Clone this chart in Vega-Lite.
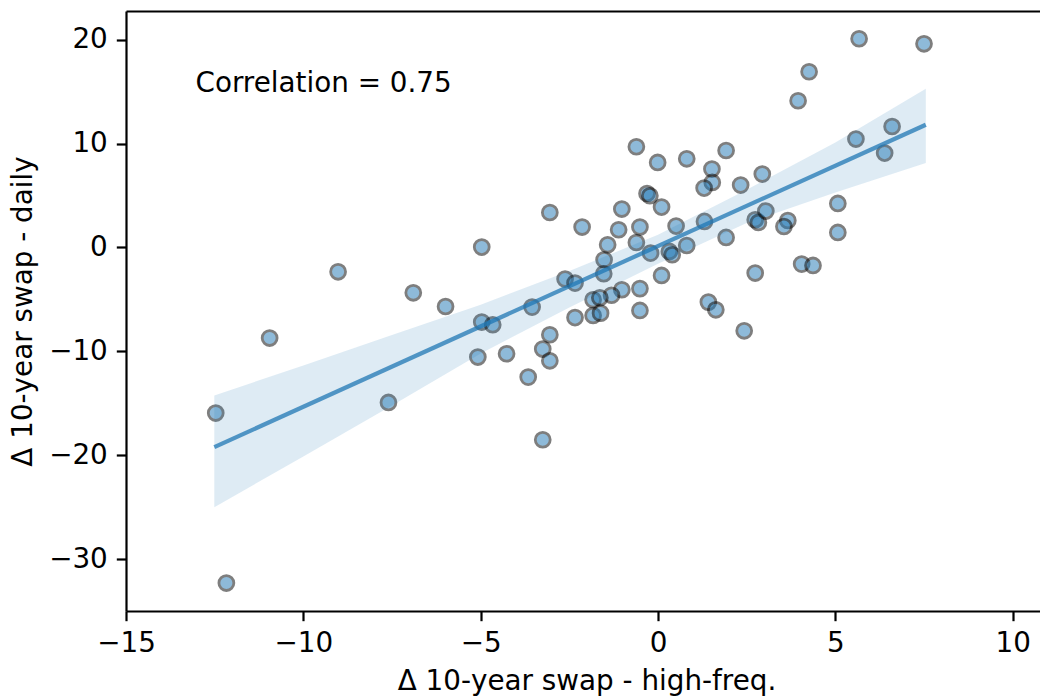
{
  "$schema": "https://vega.github.io/schema/vega-lite/v6.json",
  "width": 914,
  "height": 600,
  "autosize": {"type": "none"},
  "padding": {"left": 126, "top": 11, "right": 0, "bottom": 87},
  "background": "white",
  "datasets": {
    "pts": [
      {"x": 5.67, "y": 20.1}, {"x": 7.50, "y": 19.61}, {"x": 4.26, "y": 16.92}, {"x": 3.95, "y": 14.13},
      {"x": 6.60, "y": 11.65}, {"x": 5.58, "y": 10.44}, {"x": 6.39, "y": 9.09}, {"x": -0.61, "y": 9.70},
      {"x": -0.01, "y": 8.19}, {"x": 0.81, "y": 8.54}, {"x": 1.92, "y": 9.34}, {"x": 1.52, "y": 7.55},
      {"x": 1.53, "y": 6.26}, {"x": 1.30, "y": 5.72}, {"x": 2.33, "y": 6.01}, {"x": 2.94, "y": 7.07},
      {"x": -0.31, "y": 5.20}, {"x": -0.23, "y": 4.98}, {"x": 0.10, "y": 3.89}, {"x": -1.02, "y": 3.70},
      {"x": -2.14, "y": 1.97}, {"x": -1.11, "y": 1.71}, {"x": -0.51, "y": 1.97}, {"x": 0.51, "y": 2.06},
      {"x": 1.31, "y": 2.51}, {"x": 2.74, "y": 2.67}, {"x": 2.83, "y": 2.41}, {"x": 3.04, "y": 3.51},
      {"x": 3.66, "y": 2.60}, {"x": 3.55, "y": 2.02}, {"x": 5.07, "y": 4.24}, {"x": 5.07, "y": 1.45},
      {"x": 1.92, "y": 0.97}, {"x": 0.81, "y": 0.19}, {"x": -0.61, "y": 0.48}, {"x": -1.42, "y": 0.26},
      {"x": -0.21, "y": -0.54}, {"x": 0.32, "y": -0.38}, {"x": 0.40, "y": -0.70}, {"x": -1.52, "y": -1.18},
      {"x": -1.53, "y": -2.53}, {"x": 0.10, "y": -2.69}, {"x": -2.62, "y": -3.04}, {"x": -2.34, "y": -3.43},
      {"x": -1.02, "y": -4.07}, {"x": -1.31, "y": -4.60}, {"x": -0.51, "y": -3.96}, {"x": -1.83, "y": -5.03},
      {"x": -1.64, "y": -4.84}, {"x": -2.34, "y": -6.75}, {"x": -1.83, "y": -6.55}, {"x": -1.62, "y": -6.32},
      {"x": -0.51, "y": -6.06}, {"x": 2.74, "y": -2.46}, {"x": 4.05, "y": -1.60}, {"x": 4.37, "y": -1.73},
      {"x": 1.42, "y": -5.26}, {"x": 1.63, "y": -6.00}, {"x": 2.43, "y": -8.02}, {"x": -9.02, "y": -2.34},
      {"x": -10.95, "y": -8.72}, {"x": -6.90, "y": -4.36}, {"x": -5.99, "y": -5.68}, {"x": -4.97, "y": 0.04},
      {"x": -4.97, "y": -7.18}, {"x": -4.66, "y": -7.44}, {"x": -3.55, "y": -5.74}, {"x": -5.08, "y": -10.55},
      {"x": -4.27, "y": -10.23}, {"x": -3.05, "y": -8.40}, {"x": -3.25, "y": -9.78}, {"x": -3.05, "y": -10.91},
      {"x": -3.66, "y": -12.48}, {"x": -7.60, "y": -14.92}, {"x": -12.47, "y": -15.94}, {"x": -3.25, "y": -18.51},
      {"x": -12.17, "y": -32.31}, {"x": -3.05, "y": 3.37}
    ],
    "band": [
      {"x": -12.51, "y": -25.0, "y2": -14.25},
      {"x": -10, "y": -20.13, "y2": -11.36},
      {"x": -7.5, "y": -15.21, "y2": -8.43},
      {"x": -5, "y": -10.2, "y2": -5.51},
      {"x": -2.5, "y": -5.78, "y2": -2.27},
      {"x": 0, "y": -1.57, "y2": 1.23},
      {"x": 2.5, "y": 2.35, "y2": 5.56},
      {"x": 5, "y": 5.29, "y2": 10.11},
      {"x": 7.55, "y": 8.13, "y2": 15.28}
    ],
    "fit": [
      {"x": -12.51, "y": -19.22},
      {"x": 7.55, "y": 11.82}
    ],
    "note": [
      {"x": -13.04, "y": 15.0, "label": "Correlation = 0.75"}
    ]
  },
  "layer": [
    {
      "data": {"name": "pts"},
      "mark": {"type": "point", "shape": "circle", "filled": true, "fill": "#1f77b4", "stroke": "black", "strokeWidth": 2.8, "opacity": 0.5, "size": 222},
      "encoding": {
        "x": {"field": "x", "type": "quantitative", "scale": {"domain": [-15, 10.77], "nice": false, "zero": false},
              "axis": {"orient": "top", "labels": false, "ticks": false, "title": null}},
        "y": {"field": "y", "type": "quantitative", "scale": {"domain": [-35, 22.77], "nice": false, "zero": false},
              "axis": {"title": "Δ 10-year swap - daily", "values": [-30, -20, -10, 0, 10, 20], "titleX": -94.3, "titleY": 300, "titleBaseline": "alphabetic", "titleAlign": "center", "titleAngle": 270}}
      }
    },
    {
      "data": {"name": "band"},
      "mark": {"type": "area", "color": "#1f77b4", "opacity": 0.15, "interpolate": "linear"},
      "encoding": {
        "x": {"field": "x", "type": "quantitative", "scale": {"domain": [-15, 10.77], "nice": false, "zero": false},
              "axis": {"orient": "bottom", "title": "Δ 10-year swap - high-freq.", "values": [-15, -10, -5, 0, 5, 10], "titleX": 460.5, "titleY": 78, "titleBaseline": "alphabetic", "titleAlign": "center"}},
        "y": {"field": "y", "type": "quantitative", "scale": {"domain": [-35, 22.77], "nice": false, "zero": false}, "title": "Δ 10-year swap - daily"},
        "y2": {"field": "y2"}
      }
    },
    {
      "data": {"name": "fit"},
      "mark": {"type": "line", "color": "#1f77b4", "opacity": 0.75, "strokeWidth": 4.2},
      "encoding": {
        "x": {"field": "x", "type": "quantitative", "scale": {"domain": [-15, 10.77], "nice": false, "zero": false}, "axis": null},
        "y": {"field": "y", "type": "quantitative", "scale": {"domain": [-35, 22.77], "nice": false, "zero": false}, "title": "Δ 10-year swap - daily"}
      }
    },
    {
      "data": {"name": "note"},
      "mark": {"type": "text", "align": "left", "baseline": "alphabetic", "font": "DejaVu Sans", "fontSize": 27.8, "color": "black"},
      "encoding": {
        "x": {"field": "x", "type": "quantitative", "scale": {"domain": [-15, 10.77], "nice": false, "zero": false}, "axis": null},
        "y": {"field": "y", "type": "quantitative", "scale": {"domain": [-35, 22.77], "nice": false, "zero": false}, "title": "Δ 10-year swap - daily"},
        "text": {"field": "label"}
      }
    }
  ],
  "resolve": {"axis": {"x": "independent"}},
  "config": {
    "view": {"stroke": null},
    "font": "DejaVu Sans",
    "axis": {
      "grid": false,
      "domainColor": "black", "domainWidth": 2.2,
      "tickColor": "black", "tickWidth": 2.2, "tickSize": 9.7,
      "labelFont": "DejaVu Sans", "labelFontSize": 27.8, "labelColor": "black", "labelPadding": 9,
      "labelFlush": false, "labelOverlap": false,
      "titleFont": "DejaVu Sans", "titleFontSize": 27.8, "titleFontWeight": "normal", "titleColor": "black"
    }
  }
}
